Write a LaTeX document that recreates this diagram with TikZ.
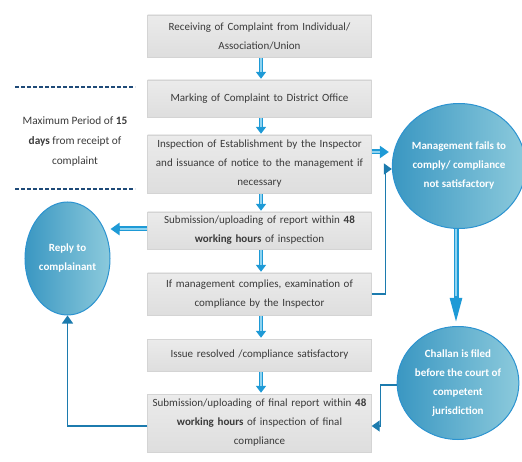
\documentclass[tikz,border=0pt]{standalone}
\usepackage{fontspec}
\setmainfont{Carlito}
\usetikzlibrary{arrows.meta,shapes.geometric,calc}
\definecolor{txt}{HTML}{3A3A3A}
\definecolor{boxtop}{HTML}{EBEBEB}
\definecolor{boxbot}{HTML}{DEDEDE}
\definecolor{boxedge}{HTML}{D4D4D4}
\definecolor{arrblue}{HTML}{1E9AD6}
\definecolor{arrlight}{HTML}{8FD3F0}
\definecolor{connblue}{HTML}{1C7BAE}
\definecolor{dashnavy}{HTML}{1F4A78}
\definecolor{circdark}{HTML}{3A97C2}
\definecolor{circlight}{HTML}{8CCADC}
\definecolor{circedge}{HTML}{2C93D0}
\begin{document}
\begin{tikzpicture}[x=1pt,y=1pt,
  box/.style={rectangle, minimum width=224pt, text width=220pt, align=center, inner sep=0pt,
    font=\fontsize{11}{19}\selectfont, text=txt, top color=boxtop, bottom color=boxbot,
    draw=boxedge, line width=0.4pt},
  bubble/.style={ellipse, inner sep=0pt, align=center, text=white,
    font=\bfseries\fontsize{11}{19}\selectfont, left color=circdark, right color=circlight,
    draw=circedge, line width=1pt},
  downarr/.style={draw=arrblue, line width=4pt, -{Triangle[width=10pt,length=7pt]}},
  fatarr/.style={draw=arrblue, line width=5pt, -{Triangle[width=12pt,length=9pt]}},
  innerline/.style={draw=arrlight, line width=1.6pt},
  conn/.style={draw=connblue, line width=1.3pt, -{Triangle[width=11pt,length=8pt]}},
  dashline/.style={draw=dashnavy, line width=1.6pt, dash pattern=on 4pt off 2pt}]
\useasboundingbox (0,0) rectangle (522,-462);

% boxes
\node[box, minimum height=42pt] (b1) at (259.5,-36) {Receiving of Complaint from Individual/\\Association/Union};
\node[box, minimum height=37pt] (b2) at (259.5,-98.5) {Marking of Complaint to District Office};
\node[box, minimum height=58pt] (b3) at (259.5,-164) {Inspection of Establishment by the Inspector\\and issuance of notice to the management if\\necessary};
\node[box, minimum height=37pt] (b4) at (259.5,-230.5) {Submission/uploading of report within \textbf{48}\\\textbf{working hours} of inspection};
\node[box, minimum height=42pt] (b5) at (259.5,-294) {If management complies, examination of\\compliance by the Inspector};
\node[box, minimum height=32pt] (b6) at (259.5,-355) {Issue resolved /compliance satisfactory};
\node[box, minimum height=58pt] (b7) at (259.5,-423) {Submission/uploading of final report within \textbf{48}\\\textbf{working hours} of inspection of final\\compliance};

% circles
\node[bubble, minimum width=118pt, minimum height=125pt] (mgmt) at (459,-166) {Management fails to\\comply/ compliance\\not satisfactory};
\node[bubble, minimum width=110pt, minimum height=113pt] (chal) at (458,-383) {Challan is filed\\before the court of\\competent\\jurisdiction};
\node[bubble, minimum width=85pt, minimum height=113pt] (reply) at (67.5,-258.5) {Reply to\\complainant};

% left note
\node[align=center, text=txt, font=\fontsize{11.3}{20}\selectfont] (note) at (75,-141)
  {Maximum Period of \textbf{15}\\\textbf{days} from receipt of\\complaint};
\draw[dashline] (15,-87) -- (135,-87);
\draw[dashline] (15,-189) -- (135,-189);

% down arrows between boxes
\foreach \a/\b in {b1/b2,b2/b3,b3/b4,b4/b5,b5/b6,b6/b7}{
  \draw[downarr] ([xshift=1.5pt,yshift=-1pt]\a.south) -- ([xshift=1.5pt,yshift=1pt]\b.north);
  \draw[draw=arrlight, line width=1.2pt] ([xshift=1.5pt,yshift=-1pt]\a.south) -- ([xshift=1.5pt,yshift=8pt]\b.north);
}

% helper coordinates
\coordinate (b3e) at ([yshift=12pt]b3.east);
\coordinate (mgw) at ([xshift=-3pt,yshift=14pt]mgmt.west);
\coordinate (b4w) at ([yshift=1.5pt]b4.west);
\coordinate (rpe) at (reply.east |- b4w);

% thick arrows
\draw[fatarr] (b3e) -- (mgw);
\draw[innerline] (b3e) -- ([xshift=-9pt]mgw);
\draw[fatarr] (b4w) -- (rpe);
\draw[innerline] (b4w) -- ([xshift=9pt]rpe);
\draw[draw=arrblue, line width=5pt, -{Triangle[width=11pt,length=26pt]}] ([xshift=-3pt]mgmt.south) -- ([xshift=-2pt,yshift=2pt]chal.north);
\draw[draw=arrlight, line width=1.4pt] ([xshift=-3pt]mgmt.south) -- ([xshift=-2pt,yshift=30pt]chal.north);

% elbow connectors
\draw[conn] (b5.east) -- ++(14,0) |- ([yshift=-3pt]mgmt.west);
\draw[conn] ([yshift=-2pt]chal.west) -- ++(-16,0) |- ([yshift=-3pt]b7.east);
\draw[conn] ([yshift=-3pt]b7.west) -| (reply.south);
\end{tikzpicture}
\end{document}
